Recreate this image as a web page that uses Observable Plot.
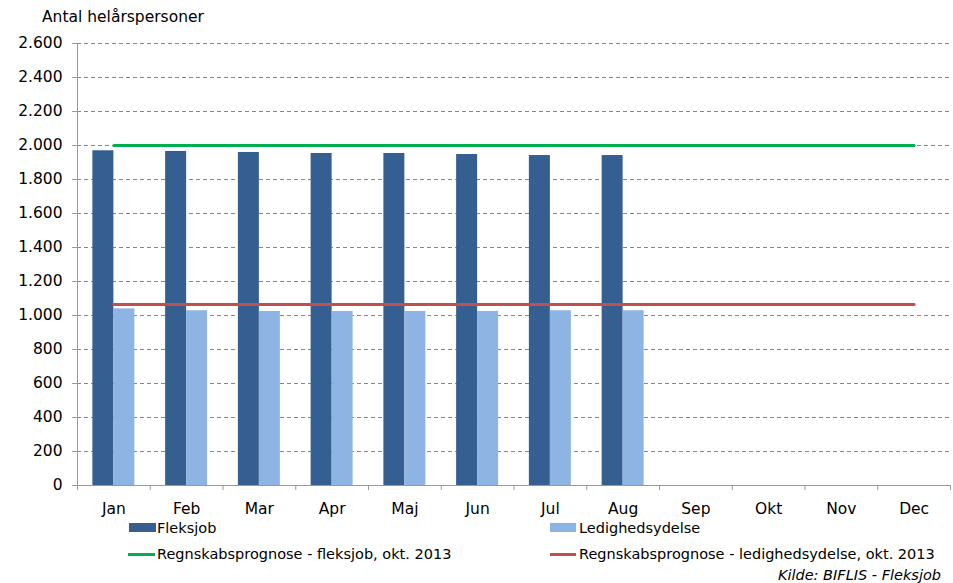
<!DOCTYPE html>
<html>
<head>
<meta charset="utf-8">
<script src="https://cdn.jsdelivr.net/npm/d3@7"></script>
<script src="https://cdn.jsdelivr.net/npm/@observablehq/plot@0.6"></script>
<style>
  body { margin: 0; background: #fff; font-family: "DejaVu Sans", Verdana, sans-serif; color: #000; }
  #wrap { position: relative; width: 953px; height: 583px; overflow: hidden; }
  #chart { position: absolute; left: 0; top: 0; }
  .abs { position: absolute; white-space: nowrap; }
  .title { left: 42px; top: 8px; font-size: 15.5px; }
  .leg { font-size: 14.5px; line-height: 18px; }
  .sw { position: absolute; }
  .cap { font-style: italic; font-size: 14.5px; right: 12px; top: 567px; }
</style>
</head>
<body>
<div id="wrap">
  <div id="chart"></div>
  <div class="abs title">Antal helårspersoner</div>
  <div class="sw" style="left:129px; top:523px; width:27px; height:9px; background:#355E91"></div>
  <div class="abs leg" style="left:157px; top:519px">Fleksjob</div>
  <div class="sw" style="left:550px; top:523px; width:26px; height:9px; background:#8EB4E3"></div>
  <div class="abs leg" style="left:579px; top:519px">Ledighedsydelse</div>
  <div class="sw" style="left:128px; top:553px; width:27px; height:3px; background:#00B050"></div>
  <div class="abs leg" style="left:157px; top:545px">Regnskabsprognose - fleksjob, okt. 2013</div>
  <div class="sw" style="left:550px; top:553px; width:26px; height:3px; background:#C0504D"></div>
  <div class="abs leg" style="left:579px; top:545px">Regnskabsprognose - ledighedsydelse, okt. 2013</div>
  <div class="abs cap">Kilde: BIFLIS - Fleksjob</div>
</div>
<script>
const months = ["Jan","Feb","Mar","Apr","Maj","Jun","Jul","Aug","Sep","Okt","Nov","Dec"];
const fleksjob = [1969, 1965, 1959, 1953, 1953, 1947, 1941, 1941];
const ledighedsydelse = [1039, 1028, 1024, 1024, 1024, 1024, 1028, 1028];
const prognoseFleksjob = 2000;
const prognoseLedighed = 1065;
const yTicks = [0,200,400,600,800,1000,1200,1400,1600,1800,2000,2200,2400,2600];

const fleksRows = fleksjob.map((v, i) => ({month: months[i], value: v}));
const ledRows = ledighedsydelse.map((v, i) => ({month: months[i], value: v}));
const progF = months.map(m => ({month: m, value: prognoseFleksjob}));
const progL = months.map(m => ({month: m, value: prognoseLedighed}));

const dk = d3.formatLocale({decimal: ",", thousands: ".", grouping: [3], currency: ["", ""]}).format(",d");

const W = 953, mL = 77, mR = 3;
const bw = (W - mL - mR) / months.length;

const chart = Plot.plot({
  width: W,
  height: 520,
  marginTop: 43,
  marginBottom: 35,
  marginLeft: mL,
  marginRight: mR,
  style: {fontFamily: "'DejaVu Sans', Verdana, sans-serif", fontSize: "15.5px", color: "#000", background: "transparent"},
  x: {type: "band", domain: months, padding: 0, round: false, axis: null, label: null},
  y: {domain: [0, 2600], axis: null, label: null},
  marks: [
    Plot.gridY(yTicks, {stroke: "#888", strokeOpacity: 1, strokeDasharray: "4,3"}),
    Plot.axisY(yTicks, {tickSize: 5, tickPadding: 10, tickFormat: dk, stroke: "#999", fontSize: 15.5, label: null}),
    Plot.barY(fleksRows, {x: "month", y: "value", fill: "#355E91", insetLeft: bw/2 - 21, insetRight: bw/2}),
    Plot.barY(ledRows, {x: "month", y: "value", fill: "#8EB4E3", insetLeft: bw/2, insetRight: bw/2 - 21}),
    Plot.frame({anchor: "left", stroke: "#999"}),
    Plot.frame({anchor: "bottom", stroke: "#999"}),
    Plot.axisX({tickSize: 5, tickFormat: () => "", dx: -bw/2, stroke: "#999", label: null}),
    Plot.axisX(["Dec"], {tickSize: 5, tickFormat: () => "", dx: bw/2, stroke: "#999", label: null}),
    Plot.axisX({tickSize: 0, tickPadding: 17, fontSize: 15.5, label: null}),
    Plot.lineY(progF, {x: "month", y: "value", stroke: "#00B050", strokeWidth: 3}),
    Plot.lineY(progL, {x: "month", y: "value", stroke: "#C0504D", strokeWidth: 3})
  ]
});
document.getElementById("chart").appendChild(chart);
</script>
</body>
</html>
